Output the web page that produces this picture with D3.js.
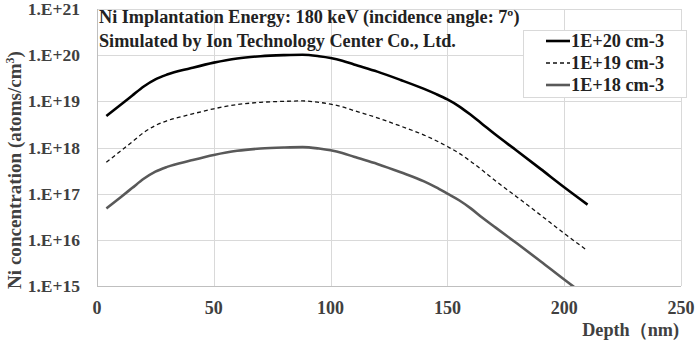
<!DOCTYPE html>
<html>
<head>
<meta charset="utf-8">
<script src="https://cdn.jsdelivr.net/npm/d3@7"></script>
<style>
  body { margin: 0; background: #fff; }
  text { font-family: "Liberation Serif", "DejaVu Serif", serif; font-weight: bold; fill: #404040; }
</style>
</head>
<body>
<svg id="chart" width="700" height="342"></svg>
<script>
// depth (nm)
var depth = [4, 10, 15, 20, 25, 30, 40, 50, 60, 70, 80, 88, 95, 100, 105, 110, 120, 130, 140, 145, 150, 155, 160, 165, 170, 180, 190, 200, 210];

// concentration, atoms/cm3
var conc20 = [4.8e18, 8.3e18, 1.32e19, 2.1e19, 3.0e19, 3.8e19, 5.2e19, 6.9e19, 8.5e19, 9.5e19, 1.0e20, 1.02e20, 9.5e19, 8.7e19, 7.6e19, 6.3e19, 4.4e19, 2.9e19, 1.86e19, 1.45e19, 1.1e19, 7.8e18, 5.1e18, 3.2e18, 2.0e18, 8.3e17, 3.4e17, 1.38e17, 5.8e16];
var conc19 = [4.8e17, 8.3e17, 1.32e18, 2.1e18, 3.0e18, 3.8e18, 5.2e18, 6.9e18, 8.5e18, 9.5e18, 1.0e19, 1.02e19, 9.5e18, 8.7e18, 7.6e18, 6.3e18, 4.4e18, 2.9e18, 1.86e18, 1.42e18, 1.05e18, 7.5e17, 5.0e17, 3.2e17, 2.0e17, 8.3e16, 3.4e16, 1.38e16, 5.8e15];
var conc18 = [4.8e16, 8.3e16, 1.32e17, 2.1e17, 3.0e17, 3.8e17, 5.2e17, 6.9e17, 8.5e17, 9.5e17, 1.0e18, 1.02e18, 9.5e17, 8.7e17, 7.6e17, 6.3e17, 4.4e17, 2.9e17, 1.84e17, 1.38e17, 1.0e17, 7.2e16, 4.8e16, 3.0e16, 1.95e16, 8.2e15, 3.4e15, 1.38e15, 5.8e14];

var seriesNames = ["1E+20 cm-3", "1E+19 cm-3", "1E+18 cm-3"];
var xTicks = [0, 50, 100, 150, 200, 250];
var yTicks = [1e15, 1e16, 1e17, 1e18, 1e19, 1e20, 1e21];
var titleLines = ["Ni Implantation Energy: 180 keV (incidence angle: 7º)", "Simulated by Ion Technology Center Co., Ltd."];

var margin = {left: 97, right: 19, top: 9, bottom: 56}
  , width = 700
  , height = 342
  , svg = d3.select("#chart");

var x = d3.scaleLinear().domain([0, 250]).range([margin.left, width - margin.right]);
var y = d3.scaleLog().domain([1e15, 1e21]).range([height - margin.bottom, margin.top]);

// shrink or grow a text's font so it spans the width seen in the picture
function fitText(sel, target){
  sel.each(function(){
    var fs = parseFloat(this.style.fontSize)
      , w = this.getComputedTextLength();
    if (w > 0) this.style.fontSize = (fs * target / w).toFixed(2) + "px";
  });
}

var styles = [
  {stroke: "#000", width: 2.6, dash: null},
  {stroke: "#111", width: 1.3, dash: "4,3"},
  {stroke: "#595959", width: 2.6, dash: null}
];
var series = [conc20, conc19, conc18].map(function(vals, i){
  return {name: seriesNames[i], style: styles[i], points: depth.map(function(d, j){ return [d, vals[j]]; })};
});

// grid
svg.append("g").selectAll("line.hgrid")
  .data(yTicks)
  .enter().append("line")
  .attr("x1", x(0)).attr("x2", x(250))
  .attr("y1", function(d){ return Math.round(y(d)) + 0.5; })
  .attr("y2", function(d){ return Math.round(y(d)) + 0.5; })
  .attr("stroke", function(d){ return d == 1e15 ? "#bfbfbf" : "#d9d9d9"; })
  .attr("stroke-width", 1);

svg.append("g").selectAll("line.vgrid")
  .data(xTicks)
  .enter().append("line")
  .attr("y1", y(1e15)).attr("y2", y(1e21))
  .attr("x1", function(d){ return Math.round(x(d)) + 0.5; })
  .attr("x2", function(d){ return Math.round(x(d)) + 0.5; })
  .attr("stroke", function(d){ return d == 0 ? "#bfbfbf" : "#d9d9d9"; })
  .attr("stroke-width", 1);

// tick labels
svg.append("g").selectAll("text")
  .data(yTicks)
  .enter().append("text")
  .attr("x", 80)
  .attr("y", function(d){ return y(d); })
  .attr("dy", "0.35em")
  .attr("text-anchor", "end")
  .style("font-size", "17.5px")
  .text(function(d){ return "1.E+" + Math.round(Math.log10(d)); });

svg.append("g").selectAll("text")
  .data(xTicks)
  .enter().append("text")
  .attr("x", function(d){ return x(d); })
  .attr("y", 314)
  .attr("text-anchor", "middle")
  .style("font-size", "18px")
  .text(function(d){ return d; });

// axis titles
svg.append("text")
  .attr("x", 679).attr("y", 336)
  .attr("text-anchor", "end")
  .style("font-size", "18px")
  .text("Depth（nm)")
  .call(fitText, 97);

var yTitle = svg.append("text")
  .attr("transform", "translate(21,170) rotate(-90)")
  .attr("text-anchor", "middle")
  .style("font-size", "19px");
yTitle.append("tspan").text("Ni concentration (atoms/cm");
yTitle.append("tspan").attr("dy", -7).style("font-size", "12px").text("3");
yTitle.append("tspan").attr("dy", 7).text(")");
yTitle.call(fitText, 238);

// curves
svg.append("clipPath").attr("id", "plotClip")
  .append("rect")
  .attr("x", x(0)).attr("y", y(1e21))
  .attr("width", x(250) - x(0)).attr("height", y(1e15) - y(1e21));

var line = d3.line()
  .curve(d3.curveMonotoneX)
  .x(function(d){ return x(d[0]); })
  .y(function(d){ return y(d[1]); });

svg.append("g").attr("clip-path", "url(#plotClip)")
  .selectAll("path")
  .data(series)
  .enter().append("path")
  .attr("d", function(d){ return line(d.points); })
  .attr("fill", "none")
  .attr("stroke", function(d){ return d.style.stroke; })
  .attr("stroke-width", function(d){ return d.style.width; })
  .attr("stroke-dasharray", function(d){ return d.style.dash; })
  .attr("stroke-linejoin", "round");

// title
var titleWidths = [421, 357];
svg.append("g").selectAll("text")
  .data(titleLines)
  .enter().append("text")
  .attr("x", 99)
  .attr("y", function(d, i){ return 23 + i * 24; })
  .style("font-size", "18px")
  .style("fill", "#222")
  .text(function(d){ return d; })
  .each(function(d, i){ fitText(d3.select(this), titleWidths[i]); });

// legend
var legend = svg.append("g").attr("transform", "translate(523,30)");
legend.append("rect")
  .attr("x", 0.5).attr("y", 0.5)
  .attr("width", 163).attr("height", 67)
  .attr("fill", "#fff")
  .attr("stroke", "#d9d9d9");
var items = legend.selectAll("g.item")
  .data(series)
  .enter().append("g")
  .attr("transform", function(d, i){ return "translate(0," + (11 + i * 22) + ")"; });
items.append("line")
  .attr("x1", 23).attr("x2", 47)
  .attr("y1", 0).attr("y2", 0)
  .attr("stroke", function(d){ return d.style.stroke; })
  .attr("stroke-width", function(d){ return d.style.width; })
  .attr("stroke-dasharray", function(d){ return d.style.dash; });
items.append("text")
  .attr("x", 48).attr("y", 0)
  .attr("dy", "0.35em")
  .style("font-size", "18px")
  .style("fill", "#222")
  .text(function(d){ return d.name; })
  .call(fitText, 93);
</script>
</body>
</html>
